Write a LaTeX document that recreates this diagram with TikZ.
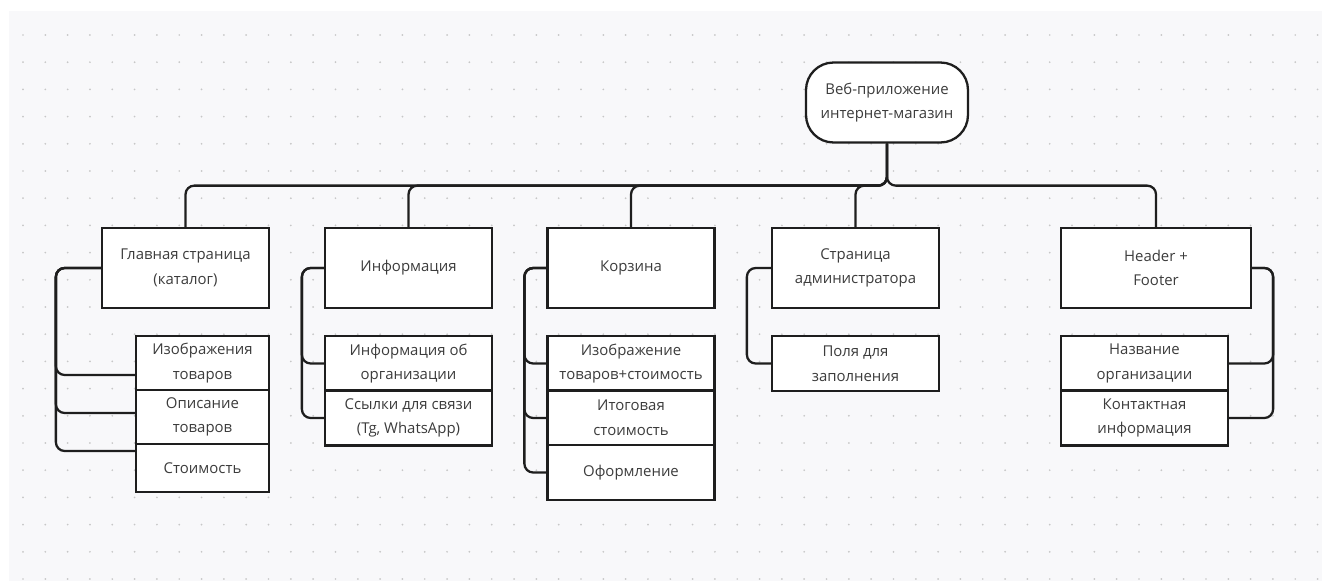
\documentclass[tikz,border=0pt]{standalone}
\usepackage{fontspec}
\setmainfont{Open Sans}

\definecolor{panel}{HTML}{F8F8FA}
\definecolor{ink}{HTML}{1E1E1E}
\definecolor{txt}{HTML}{3C3C3C}

\tikzset{%
  >=latex,
  box/.style={draw=ink, fill=white, line width=1.3pt, text=txt, align=center,
    inner sep=2pt, font=\fontsize{8.5}{14}\selectfont},
  topbox/.style={box, minimum width=3.34cm, minimum height=1.6cm},
  subbox/.style={box, minimum width=3.34cm, minimum height=1.1cm},
  link/.style={draw=ink, line width=1.3pt, rounded corners=5pt}
}

\begin{document}
\begin{tikzpicture}[x=0.02cm, y=-0.02cm]
     \useasboundingbox (0,0) rectangle (1322,581);
     \fill[white] (0,0) rectangle (1322,581);
     \fill[panel] (9,11) rectangle (1322,581);
     % dot grid
     \foreach \i in {0,...,58}
       \foreach \j in {0,...,20}
         \fill[black!22] (23+\i*22.32, 35+\j*27.2) circle (0.55pt);

     \node[box, rounded corners=0.55cm, minimum width=3.24cm, minimum height=1.6cm]
       (root) at (887,102.5) {Веб-приложение\\интернет-магазин};

     \node[topbox] (glav)  at (185.5,268) {Главная страница\\(каталог)};
     \node[topbox] (info)  at (408.5,268) {Информация};
     \node[topbox] (korz)  at (631,268)   {Корзина};
     \node[topbox] (admin) at (855.5,268) {Страница\\администратора};
     \node[topbox, minimum width=3.8cm] (head) at (1156,268) {Header +\\Footer};

     % main page
     \node[subbox, minimum width=2.66cm, minimum height=1.08cm] (g1) at (202.5,363) {Изображения\\товаров};
     \node[subbox, minimum width=2.66cm, minimum height=1.08cm] (g2) at (202.5,417) {Описание\\товаров};
     \node[subbox, minimum width=2.66cm, minimum height=0.96cm] (g3) at (202.5,468) {Стоимость};

     % information
     \node[subbox] (i1) at (408.5,363.5) {Информация об\\организации};
     \node[subbox] (i2) at (408.5,418)   {Ссылки для связи\\(Tg, WhatsApp)};

     % cart
     \node[subbox] (k1) at (631,363.5) {Изображение\\товаров+стоимость};
     \node[subbox] (k2) at (631,418)   {Итоговая\\стоимость};
     \node[subbox] (k3) at (631,472.5) {Оформление};

     % admin
     \node[subbox] (a1) at (855.5,363.5) {Поля для\\заполнения};

     % header + footer
     \node[subbox] (h1) at (1144.5,363.5) {Название\\организации};
     \node[subbox] (h2) at (1144.5,418)   {Контактная\\информация};

     \foreach \c in {glav,info,korz,admin,head}
       \draw[link] (root.south) -- ++(0,42) -| (\c.north);

     \draw[link] (glav.west) -- ++(-45,0) |- ([yshift=-0.24cm]g1.west);
     \draw[link] (glav.west) -- ++(-45,0) |- ([yshift=0.08cm]g2.west);
     \draw[link] (glav.west) -- ++(-45,0) |- ([yshift=0.34cm]g3.west);

     \foreach \s in {i1,i2}
       \draw[link] (info.west) -- ++(-22,0) |- (\s.west);
     \foreach \s in {k1,k2,k3}
       \draw[link] (korz.west) -- ++(-22,0) |- (\s.west);
     \draw[link] (admin.west) -- ++(-24,0) |- (a1.west);
     \foreach \s in {h1,h2}
       \draw[link] (head.east) -- ++(21,0) |- (\s.east);

\end{tikzpicture}
\end{document}
